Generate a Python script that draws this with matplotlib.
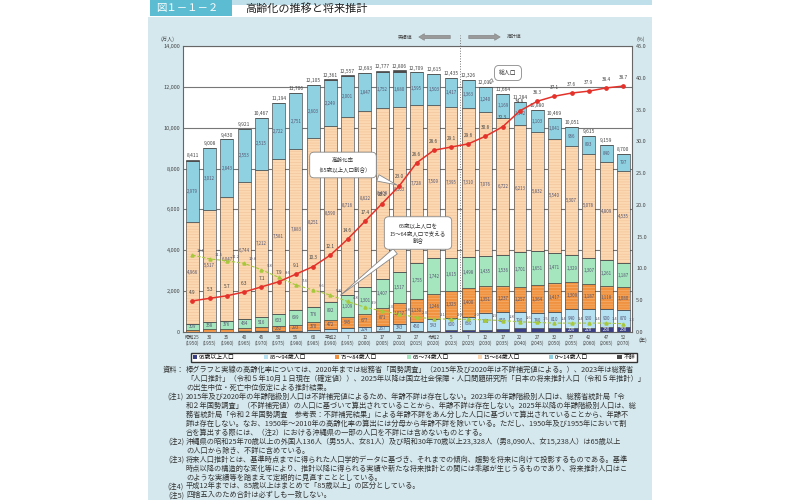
import matplotlib
matplotlib.use("Agg")
import matplotlib.pyplot as plt
from matplotlib.patches import Rectangle, Patch, FancyArrowPatch

plt.rcParams['font.family'] = ['Noto Sans CJK JP', 'DejaVu Sans']
plt.rcParams['hatch.linewidth'] = 0.4

# ---- data (万人 / %) ----
era = ['昭和25', '30', '35', '40', '45', '50', '55', '60', '平成2', '7', '12', '17', '22', '27',
       '令和2', '5', '7', '12', '17', '22', '27', '32', '37', '42', '47', '52']
years = [1950, 1955, 1960, 1965, 1970, 1975, 1980, 1985, 1990, 1995, 2000, 2005, 2010, 2015,
         2020, 2023, 2025, 2030, 2035, 2040, 2045, 2050, 2055, 2060, 2065, 2070]
total = [8411, 9008, 9430, 9921, 10467, 11194, 11706, 12105, 12361, 12557, 12693, 12777, 12806, 12709,
         12615, 12435, 12326, 12012, 11664, 11284, 10880, 10469, 10051, 9615, 9159, 8700]
age0_14 = [2979, 3012, 2843, 2553, 2515, 2722, 2751, 2603, 2249, 2001, 1847, 1752, 1680, 1595,
           1503, 1417, 1363, 1240, 1169, 1142, 1103, 1041, 966, 893, 840, 797]
age15_64 = [4966, 5517, 6047, 6744, 7212, 7581, 7883, 8251, 8590, 8716, 8622, 8409, 8103, 7728,
            7509, 7395, 7310, 7076, 6722, 6213, 5832, 5540, 5307, 5078, 4809, 4535]
age65_74 = [309, 338, 376, 434, 516, 603, 699, 776, 892, 1109, 1301, 1407, 1517, 1755,
            1742, 1615, 1498, 1435, 1536, 1701, 1651, 1471, 1329, 1307, 1261, 1187]
age75_84 = [97, 124, 145, 163, 187, 232, 293, 370, 472, 545, 677, 871, 1027, 1130,
            1246, 1323, 1400, 1351, 1237, 1257, 1364, 1417, 1309, 1187, 1118, 1080]
age85_94 = [10, 15, 19, 26, 37, 52, 73, 101, 125, 172, 224, 267, 343, 450,
            543, 600, 660, 790, 850, 790, 740, 810, 940, 930, 900, 870]
age95 = [0, 0, 0, 0, 0, 0, 0, 0, 0, 0, 0, 26, 37, 52,
         71, 85, 95, 120, 150, 180, 190, 190, 200, 220, 230, 230]
unknown = [50, 2, 0, 0, 1, 4, 7, 4, 33, 14, 22, 45, 98, 0,
           0, 0, 0, 0, 0, 0, 0, 0, 0, 0, 0, 0]
aging_rate = [4.9, 5.3, 5.7, 6.3, 7.1, 7.9, 9.1, 10.3, 12.1, 14.6, 17.4, 20.2, 23.0, 26.6,
              28.6, 29.1, 29.6, 30.8, 32.3, 34.8, 36.3, 37.1, 37.6, 37.9, 38.4, 38.7]
support = [12.1, 11.5, 11.2, 10.8, 9.8, 8.6, 7.4, 6.6, 5.8, 4.8, 3.9, 3.3, 2.8, 2.3,
           2.1, 2.0, 2.0, 1.9, 1.8, 1.6, 1.5, 1.4, 1.4, 1.4, 1.4, 1.3]

series = [
    ('95歳以上人口', age95, '#3a3f86', None),
    ('85～94歳人口', age85_94, '#b5e1f3', None),
    ('75～84歳人口', age75_84, '#f0923f', '#f6b679'),
    ('65～74歳人口', age65_74, '#a6e6bf', None),
    ('15～64歳人口', age15_64, '#fcd8b2', '#efc196'),
    ('0～14歳人口', age0_14, '#8fd1e1', None),
    ('不詳', unknown, '#4a4a4a', None),
]

W, H = 800, 500


def px(x, y):
    return x / W, 1 - y / H


fig = plt.figure(figsize=(8, 5), dpi=100)
fig.patch.set_facecolor('white')

# panel and header
fig.patches.append(Rectangle(px(148, 500), 504 / W, 483 / H, transform=fig.transFigure,
                             fc='#d5e8ee', ec='none', zorder=-10))
fig.patches.append(Rectangle(px(232, 5), 420 / W, 5 / H, transform=fig.transFigure,
                             fc='#bfe0ea', ec='none', zorder=-10))
fig.patches.append(Rectangle(px(150, 16), 82 / W, 16 / H, transform=fig.transFigure,
                             fc='#5cbcd2', ec='none', zorder=-9))
fig.text(*px(156, 8.5), '図１－１－２', color='white', fontsize=7.5, va='center')
fig.text(*px(245, 8.5), '高齢化の推移と将来推計', color='#222', fontsize=8, va='center')

ax = fig.add_axes([183 / W, 1 - 332 / H, 449 / W, 286 / H])
ax.set_facecolor('white')
x = list(range(len(years)))
bw = 0.75

bottom = [0] * len(x)
for name, vals, col, hcol in series:
    if hcol:
        ax.bar(x, vals, bw, bottom=bottom, color=col, hatch='------', edgecolor=hcol, linewidth=0, zorder=1)
        ax.bar(x, vals, bw, bottom=bottom, fill=False, edgecolor='#444', linewidth=0.45, zorder=1.2)
    else:
        ax.bar(x, vals, bw, bottom=bottom, color=col, edgecolor='#444', linewidth=0.45, zorder=1.2)
    for i, v in enumerate(vals):
        if v >= 200 and name != '不詳':
            tc = 'white' if name == '95歳以上人口' else '#555570'
            ax.text(i, bottom[i] + v / 2, f'{v:,}', fontsize=3.2, color=tc,
                    ha='center', va='center', zorder=4)
    bottom = [b + v for b, v in zip(bottom, vals)]

for i, t in enumerate(total):
    ax.text(i, t + 90, f'{t:,}', fontsize=3.5, color='#444', ha='center', va='bottom', zorder=4)

ax.set_xlim(-0.55, 25.5)
ax.set_ylim(0, 14000)
ax.set_yticks(range(0, 14001, 2000))
ax.set_yticklabels([f'{v:,}' for v in range(0, 14001, 2000)], fontsize=4, color='#444')
ax.set_xticks(x)
ax.set_xticklabels([f'{e}\n({y})' for e, y in zip(era, years)], fontsize=3.4, color='#444',
                   linespacing=1.1)
ax.tick_params(length=0, pad=2)
ax.set_axisbelow(True)
ax.yaxis.grid(True, color='#777', lw=0.8)
for s in ax.spines.values():
    s.set_color('#666')
    s.set_linewidth(0.8)

ax2 = ax.twinx()
ax2.set_ylim(0, 45)
ax2.set_yticks(range(0, 46, 5))
ax2.set_yticklabels([f'{v:.1f}' for v in range(0, 46, 5)], fontsize=4, color='#444')
ax2.tick_params(length=0, pad=3)
for s in ax2.spines.values():
    s.set_visible(False)

ax2.plot(x, support, color='#a6c83a', lw=0.8, ls=(0, (3, 1.5)), marker='^', ms=2.2, zorder=5)
ax2.plot(x, aging_rate, color='#e4322b', lw=1.1, marker='o', ms=2.4, zorder=6)
for i, (r, s) in enumerate(zip(aging_rate, support)):
    ax2.text(i, r + 1.0, f'{r:.1f}', fontsize=3.4, color='#444', ha='center', va='bottom', zorder=7)
    # support labels sit in the gaps between bars
    ax2.text(i + 0.5, s + 0.3, f'{s:.1f}', fontsize=3.0, color='#556', ha='center', va='bottom', zorder=7)

# dotted split between actual and projection
ax.axvline(15.5, 0, 1.04, color='#777', ls=':', lw=0.7, clip_on=False, zorder=3)
fig.text(*px(405, 37), '実績値', fontsize=3.5, color='#444', ha='center', va='center')
fig.text(*px(514, 37), '推計値', fontsize=3.5, color='#444', ha='center', va='center')
for a, b in [((453, 37), (416, 37)), ((466, 37), (503, 37))]:
    fig.add_artist(FancyArrowPatch(px(*a), px(*b), transform=fig.transFigure,
                   arrowstyle='simple,head_width=0.6,head_length=0.5,tail_width=0.3',
                   mutation_scale=8, fc='#9a9a9a', ec='#808080', lw=0.4))

ax.text(-0.035, 1.018, '(万人)', transform=ax.transAxes, fontsize=3.8, color='#444', ha='center')
ax.text(1.02, 1.018, '(%)', transform=ax.transAxes, fontsize=3.8, color='#444', ha='center')
ax.text(1.025, -0.028, '(年)', transform=ax.transAxes, fontsize=3.8, color='#444', ha='center', va='center')

# callouts
bub = dict(boxstyle='round,pad=1.0,rounding_size=0.8', fc='white', ec='#888', lw=0.6)
wedge = dict(arrowstyle='wedge,tail_width=1.2,shrink_factor=0.5', fc='white', ec='#888', lw=0.6)
ax2.annotate('高齢化率\n（65歳以上人口割合）', xy=(12, aging_rate[12]), xycoords='data',
             xytext=px(343, 165), textcoords='figure fraction', fontsize=4, color='#333',
             ha='center', va='center', bbox=bub, arrowprops=wedge, zorder=8, linespacing=1.7)
ax2.annotate('65歳以上人口を\n15～64歳人口で支える\n割合', xy=(8.45, 5.5), xycoords='data',
             xytext=px(418, 233), textcoords='figure fraction', fontsize=4, color='#333',
             ha='center', va='center', bbox=bub, arrowprops=wedge, zorder=8, linespacing=1.4)
ax.annotate('総人口', xy=(17, total[17] + 150), xycoords='data',
            xytext=px(508, 73), textcoords='figure fraction', fontsize=4.2, color='#333',
            ha='center', va='center', bbox=dict(boxstyle='round,pad=0.8', fc='white', ec='#888', lw=0.6),
            arrowprops=dict(arrowstyle='wedge,tail_width=0.6,shrink_factor=0.5', fc='white', ec='#888', lw=0.6),
            zorder=8)

# legend
handles = [Patch(fc=c, ec='none') for _, _, c, _ in series]
fig.legend(handles, [s[0] for s in series], loc='center', ncol=7, mode='expand',
           bbox_to_anchor=(188 / W, 1 - 363 / H, 452 / W, 11 / H), fontsize=4.2,
           frameon=True, fancybox=False, edgecolor='#333', framealpha=1,
           handlelength=0.7, handleheight=0.7, handletextpad=0.3, borderpad=0.35)

# notes
notes = [
    ('資料：', '棒グラフと実線の高齢化率については、2020年までは総務省「国勢調査」（2015年及び2020年は不詳補完値による。）、2023年は総務省'),
    ('', '「人口推計」（令和５年10月１日現在（確定値））、2025年以降は国立社会保障・人口問題研究所「日本の将来推計人口（令和５年推計）」'),
    ('', 'の出生中位・死亡中位仮定による推計結果。'),
    ('(注1)', '2015年及び2020年の年齢階級別人口は不詳補完値によるため、年齢不詳は存在しない。2023年の年齢階級別人口は、総務省統計局「令'),
    ('', '和２年国勢調査」（不詳補完値）の人口に基づいて算出されていることから、年齢不詳は存在しない。2025年以降の年齢階級別人口は、総'),
    ('', '務省統計局「令和２年国勢調査　参考表：不詳補完結果」による年齢不詳をあん分した人口に基づいて算出されていることから、年齢不'),
    ('', '詳は存在しない。なお、1950年～2010年の高齢化率の算出には分母から年齢不詳を除いている。ただし、1950年及び1955年において割'),
    ('', '合を算出する際には、（注2）における沖縄県の一部の人口を不詳には含めないものとする。'),
    ('(注2)', '沖縄県の昭和25年70歳以上の外国人136人（男55人、女81人）及び昭和30年70歳以上23,328人（男8,090人、女15,238人）は65歳以上'),
    ('', 'の人口から除き、不詳に含めている。'),
    ('(注3)', '将来人口推計とは、基準時点までに得られた人口学的データに基づき、それまでの傾向、趨勢を将来に向けて投影するものである。基準'),
    ('', '時点以降の構造的な変化等により、推計以降に得られる実績や新たな将来推計との間には乖離が生じうるものであり、将来推計人口はこ'),
    ('', 'のような実績等を踏まえて定期的に見直すこととしている。'),
    ('(注4)', '平成12年までは、85歳以上はまとめて「85歳以上」の区分としている。'),
    ('(注5)', '四捨五入のため合計は必ずしも一致しない。'),
]
for k, (lab, txt) in enumerate(notes):
    y = 370 + k * 8.95
    if lab:
        fig.text(*px(184, y), lab, fontsize=5.2, color='#333', va='center', ha='right')
    fig.text(*px(186, y), txt, fontsize=5.2, color='#333', va='center')

fig.savefig('out.png', dpi=100, facecolor='white')
